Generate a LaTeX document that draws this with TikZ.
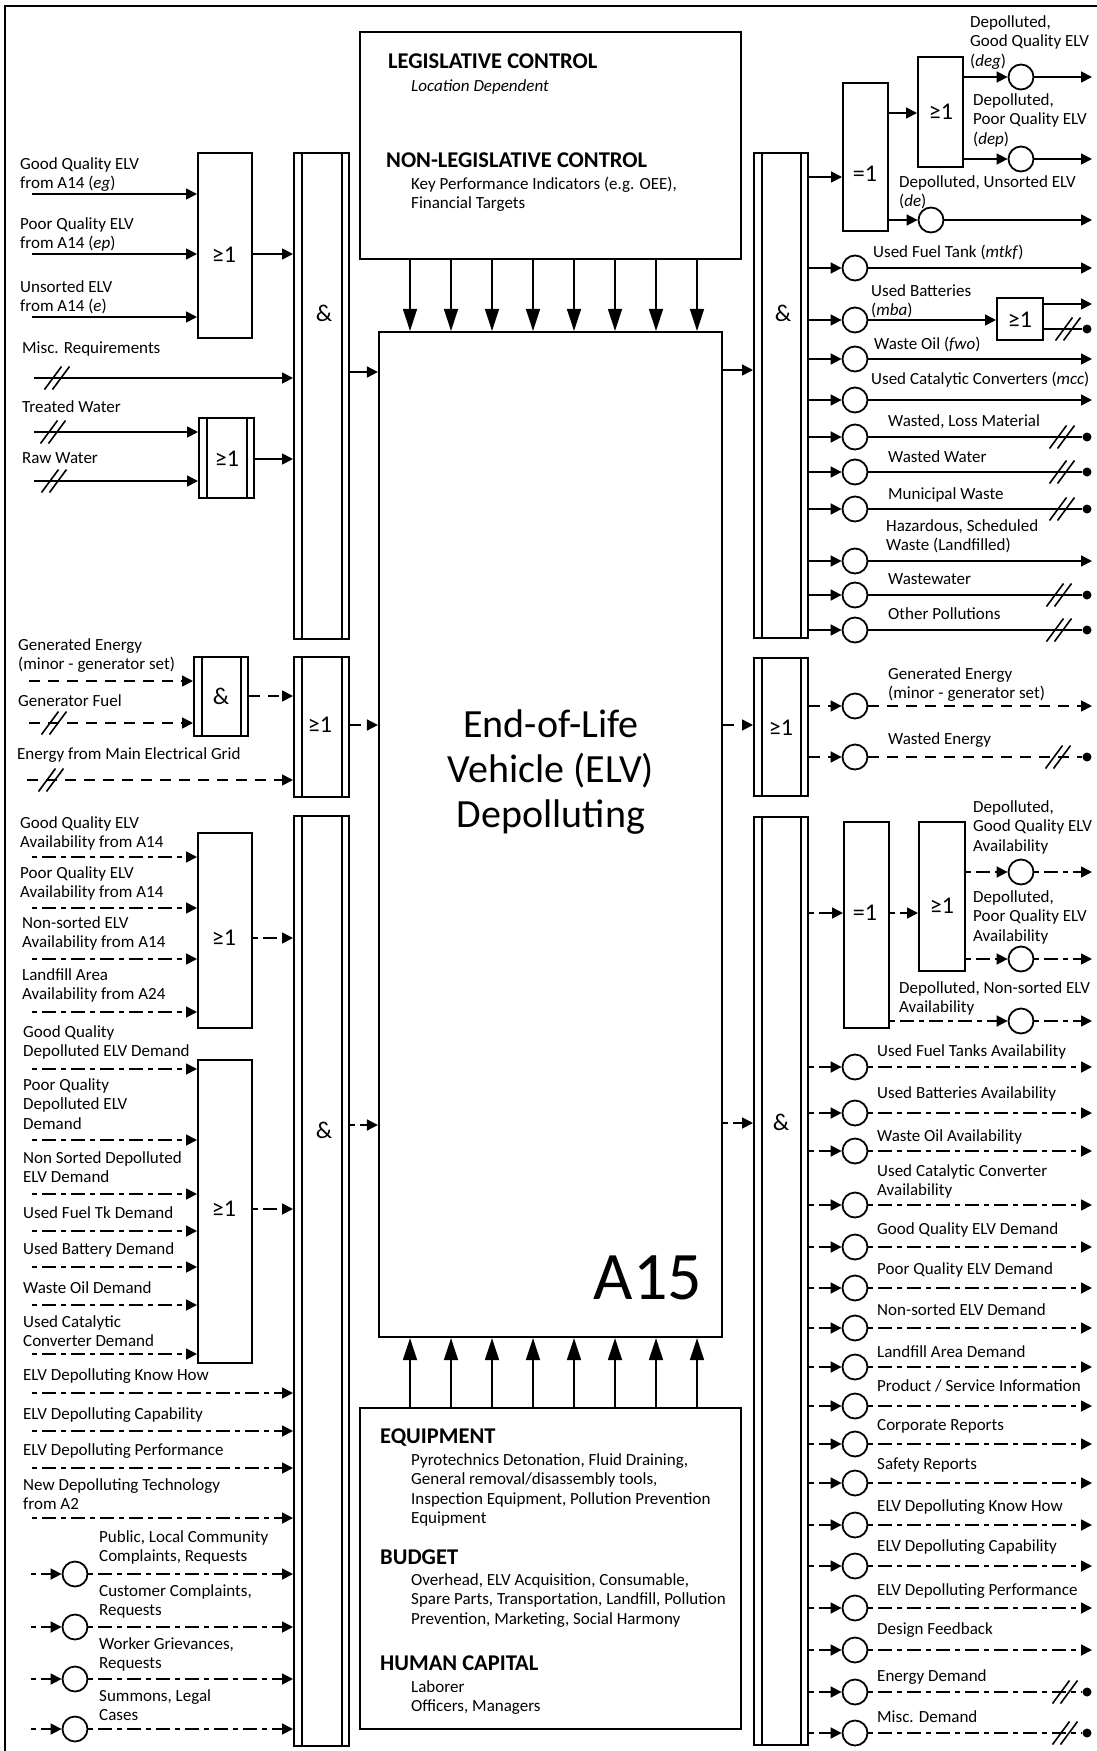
\documentclass[tikz,border=0pt]{standalone}
\usepackage{fontspec}
\setmainfont{Carlito}
\usetikzlibrary{arrows.meta,calc}
\newcommand\lab{\fontsize{17}{19.5}\selectfont}
\newcommand\gfont{\fontsize{24}{26}\selectfont}
\newcommand\hfont{\fontsize{22.5}{24}\selectfont\bfseries}
\newcommand\ml[1]{{\let\\\cr\vtop{\halign{##\hfil\cr#1\crcr}}}}
\tikzset{
 lbl/.style={anchor=base west, inner sep=0pt, font=\lab},
 gb/.style={draw, line width=2pt, inner sep=0pt, fill=white},
 sym/.style={inner sep=0pt, font=\gfont},
 circ/.style={draw, circle, line width=1.8pt, minimum size=25pt, inner sep=0pt, fill=white},
 ar/.style={line width=1.7pt, -{Triangle[length=11pt,width=11pt]}},
 pl/.style={line width=1.7pt},
 big/.style={line width=1.8pt, -{Triangle[length=22pt,width=14pt]}},
 en/.style={dash pattern=on 11pt off 8pt},
 inf/.style={dash pattern=on 5pt off 5pt on 14pt off 5pt},
 dotend/.style={circle, fill, inner sep=0pt, minimum size=9pt},
}
\newcommand\gbox[6][]{\node[gb,#1,minimum width={(#5-#3)*1pt},minimum height={(#6-#4)*1pt}] (#2) at ({(#3+#5)/2},{(#4+#6)/2}) {};}
\newcommand\dbox[5]{\gbox{#1}{#2}{#3}{#4}{#5}\draw[line width=1.6pt] ([xshift=9pt]#1.north west) -- ([xshift=9pt]#1.south west) ([xshift=-8pt]#1.north east) -- ([xshift=-8pt]#1.south east);}
\newcommand\dsl[2]{\draw[line width=1.6pt,solid] ({#1-12.5},{#2+11.5}) -- ({#1+4.5},{#2-11.5}) ({#1-4.5},{#2+11.5}) -- ({#1+12.5},{#2-11.5});}
\newcommand\hc[4][ar]{\draw[#1] (#2 |- 0,#4) -- (#3 |- 0,#4);}
\newcommand\hs[4][ar]{\coordinate (s) at (#2,#4); \draw[#1] (s) -- (#3 |- s);}
\begin{document}
\begin{tikzpicture}[x=1pt,y=-1pt]
\useasboundingbox (0,0) rectangle (1097,1751);
\fill[white] (0,0) rectangle (1097,1751);
\draw[line width=2pt] (5,1752) -- (5,6) -- (1098,6);

% ---------- central boxes ----------
\gbox[line width=2.2pt]{ctrl}{360}{32}{741}{259}
\gbox[line width=2.2pt]{main}{379}{332}{722}{1337}
\gbox[line width=2.2pt]{mech}{360}{1408}{741}{1729}
\foreach \i in {0,...,7} {
  \coordinate (cx\i) at ({410+41*\i},0);
  \draw[big] (ctrl.south -| cx\i) -- (main.north -| cx\i);
  \draw[big] (mech.north -| cx\i) -- (main.south -| cx\i);
}
\node[lbl,font=\hfont] (t1) at (388,68.5) {LEGISLATIVE CONTROL};
\node[lbl,font=\lab\itshape] (t2) at (411,91) {Location Dependent};
\node[lbl,font=\hfont] (t3) at (386,167.5) {NON-LEGISLATIVE CONTROL};
\node[lbl] (t4) at (411,189) {\ml{Key Performance Indicators (e.g. OEE),\\Financial Targets}};
\node[font=\fontsize{40}{45}\selectfont, align=center] (mt) at (551,772) {End-of-Life\\Vehicle (ELV)\\Depolluting};
\node[font=\fontsize{68}{70}\selectfont, inner sep=0pt] (a15) at (648,1278) {A15};
\node[lbl,font=\hfont] (m1) at (380,1443.5) {EQUIPMENT};
\node[lbl] (m2) at (411,1465) {\ml{Pyrotechnics Detonation, Fluid Draining,\\General removal/disassembly tools,\\Inspection Equipment, Pollution Prevention\\Equipment}};
\node[lbl,font=\hfont] (m3) at (380,1564.5) {BUDGET};
\node[lbl] (m4) at (411,1585) {\ml{Overhead, ELV Acquisition, Consumable,\\Spare Parts, Transportation, Landfill, Pollution\\Prevention, Marketing, Social Harmony}};
\node[lbl,font=\hfont] (m5) at (380,1670.5) {HUMAN CAPITAL};
\node[lbl] (m6) at (411,1692) {\ml{Laborer\\Officers, Managers}};

% ---------- left upper ----------
\gbox{gA}{198}{153}{252}{338} \node[sym] (sA) at (224,255) {≥1};
\dbox{LB1}{294}{153}{349}{639} \node[sym] (sL1) at (324,313) {\&};
\dbox{gW}{199}{418}{254}{498} \node[sym] (sW) at (227,459) {≥1};
\hs{32}{gA.west}{194} \hs{32}{gA.west}{254} \hs{32}{gA.west}{317}
\node[lbl] at (20,169) {\ml{Good Quality ELV\\from A14 (\textit{eg})}};
\node[lbl] at (20,229) {\ml{Poor Quality ELV\\from A14 (\textit{ep})}};
\node[lbl] at (20,292) {\ml{Unsorted ELV\\from A14 (\textit{e})}};
\hc{gA.east}{LB1.west}{254}
\hs{34}{LB1.west}{378} \dsl{57}{378}
\node[lbl] at (22,353) {Misc. Requirements};
\hs{34}{gW.west}{432} \dsl{53}{432}
\hs{34}{gW.west}{481} \dsl{54}{481}
\node[lbl] at (22,412) {Treated Water};
\node[lbl] at (22,463) {Raw Water};
\hc{gW.east}{LB1.west}{459}
\hc{LB1.east}{main.west}{372}

% ---------- left middle ----------
\dbox{gE}{194}{657}{248}{736} \node[sym] (sE) at (221,696) {\&};
\dbox{LB2}{294}{657}{349}{797} \node[sym] (sL2) at (320,725) {≥1};
\hs[ar,en]{29}{gE.west}{681}
\hs[ar,en]{29}{gE.west}{723} \dsl{54}{723}
\hs[ar,en]{27}{LB2.west}{780} \dsl{51}{780}
\node[lbl] at (18,650) {\ml{Generated Energy\\(minor - generator set)}};
\node[lbl] at (18,706) {Generator Fuel};
\node[lbl] at (17,759) {Energy from Main Electrical Grid};
\hc[ar,en]{gE.east}{LB2.west}{696}
\hc[ar,en]{LB2.east}{main.west}{725}

% ---------- left lower ----------
\gbox{gAv}{198}{833}{252}{1028} \node[sym] (sAv) at (224,938) {≥1};
\gbox{gDm}{198}{1060}{252}{1363} \node[sym] (sDm) at (224,1209) {≥1};
\dbox{LB3}{294}{816}{349}{1746} \node[sym] (sL3) at (324,1130) {\&};
\foreach \y in {857,908,959,1012} {\hs[ar,inf]{32}{gAv.west}{\y}}
\node[lbl] at (20,828) {\ml{Good Quality ELV\\Availability from A14}};
\node[lbl] at (20,878) {\ml{Poor Quality ELV\\Availability from A14}};
\node[lbl] at (22,928) {\ml{Non-sorted ELV\\Availability from A14}};
\node[lbl] at (22,980) {\ml{Landfill Area\\Availability from A24}};
\foreach \y in {1069,1140,1194,1231,1267,1305,1354} {\hs[ar,inf]{32}{gDm.west}{\y}}
\node[lbl] at (23,1037) {\ml{Good Quality\\Depolluted ELV Demand}};
\node[lbl] at (23,1090) {\ml{Poor Quality\\Depolluted ELV\\Demand}};
\node[lbl] at (23,1163) {\ml{Non Sorted Depolluted\\ELV Demand}};
\node[lbl] at (23,1218) {Used Fuel Tk Demand};
\node[lbl] at (23,1254) {Used Battery Demand};
\node[lbl] at (23,1293) {Waste Oil Demand};
\node[lbl] at (23,1327) {\ml{Used Catalytic\\Converter Demand}};
\hc[ar,inf]{gAv.east}{LB3.west}{938}
\hc[ar,inf]{gDm.east}{LB3.west}{1209}
\foreach \y in {1393,1431,1468,1518} {\hs[ar,inf]{32}{LB3.west}{\y}}
\node[lbl] at (23,1380) {ELV Depolluting Know How};
\node[lbl] at (23,1419) {ELV Depolluting Capability};
\node[lbl] at (23,1455) {ELV Depolluting Performance};
\node[lbl] at (23,1490) {\ml{New Depolluting Technology\\from A2}};
\foreach \n/\y in {1/1574,2/1627,3/1679,4/1729} {
  \node[circ] (lc\n) at (75,\y) {};
  \coordinate (ls\n) at (31,\y);
  \draw[ar,inf] (ls\n) -- (lc\n.west);
  \draw[ar,inf] (lc\n.east) -- (LB3.west |- lc\n);
}
\node[lbl] at (99,1542) {\ml{Public, Local Community\\Complaints, Requests}};
\node[lbl] at (99,1596) {\ml{Customer Complaints,\\Requests}};
\node[lbl] at (99,1649) {\ml{Worker Grievances,\\Requests}};
\node[lbl] at (99,1701) {\ml{Summons, Legal\\Cases}};
\hc[ar,inf]{LB3.east}{main.west}{1125}

% ---------- right upper ----------
\dbox{RB1}{754}{153}{808}{638} \node[sym] (sR1) at (783,313) {\&};
\hc{main.east}{RB1.west}{370}
\gbox{gX}{843}{83}{888}{231} \node[sym] (sX) at (865,174) {=1};
\gbox{gO}{918}{57}{963}{167} \node[sym] (sO) at (941,112) {≥1};
\hc{RB1.east}{gX.west}{177}
\hc{gX.east}{gO.west}{113}
\node[circ] (cdeg) at (1021,77) {};
\node[circ] (cdep) at (1021,159) {};
\node[circ] (cde) at (931,220) {};
\draw[ar] (gO.east |- cdeg) -- (cdeg.west);
\draw[ar] (gO.east |- cdep) -- (cdep.west);
\draw[ar] (gX.east |- cde) -- (cde.west);
\foreach \c in {cdeg,cdep,cde} {\draw[ar] (\c.east) -- (\c.east -| 1092,0);}
\node[lbl] at (970,27) {\ml{Depolluted,\\Good Quality ELV\\(\textit{deg})}};
\node[lbl] at (973,105) {\ml{Depolluted,\\Poor Quality ELV\\(\textit{dep})}};
\node[lbl] at (899,187) {\ml{Depolluted, Unsorted ELV\\(\textit{de})}};
\foreach \n/\y in {f/268,b/320,o/359,c/400,l/437,w/472,m/509,h/561,ww/595,op/630} {
  \node[circ] (c\n) at (855,\y) {};
  \draw[ar] (RB1.east |- c\n) -- (c\n.west);
}
\foreach \n in {f,o,c,h} {\draw[ar] (c\n.east) -- (c\n.east -| 1092,0);}
\foreach \n/\y/\s in {l/437/1062,w/472/1062,m/509/1062,ww/595/1059,op/630/1059} {
  \node[dotend] (d\n) at (1087,\y) {};
  \draw[pl] (c\n.east) -- (d\n);
  \dsl{\s}{\y}
}
\gbox{gB}{997}{298}{1043}{340} \node[sym] (sB) at (1020,320) {≥1};
\draw[ar] (cb.east) -- (gB.west |- cb);
\coordinate (eb1) at (1092,304);
\draw[ar] (gB.east |- eb1) -- (eb1);
\node[dotend] (db2) at (1087,329) {};
\draw[pl] (gB.east |- db2) -- (db2); \dsl{1068}{329}
\node[lbl] at (873,257) {Used Fuel Tank (\textit{mtkf})};
\node[lbl] at (871,296) {\ml{Used Batteries\\(\textit{mba})}};
\node[lbl] at (874,349) {Waste Oil (\textit{fwo})};
\node[lbl] at (871,384) {Used Catalytic Converters (\textit{mcc})};
\node[lbl] at (888,426) {Wasted, Loss Material};
\node[lbl] at (888,462) {Wasted Water};
\node[lbl] at (888,499) {Municipal Waste};
\node[lbl] at (886,531) {\ml{Hazardous, Scheduled\\Waste (Landfilled)}};
\node[lbl] at (888,584) {Wastewater};
\node[lbl] at (888,619) {Other Pollutions};

% ---------- right middle ----------
\dbox{RB2}{754}{658}{808}{796} \node[sym] (sR2) at (781,728) {≥1};
\hc[ar,en]{main.east}{RB2.west}{725}
\node[circ] (cge) at (855,706) {};
\node[circ] (cwe) at (855,757) {};
\draw[ar,en] (RB2.east |- cge) -- (cge.west);
\draw[ar,en] (RB2.east |- cwe) -- (cwe.west);
\draw[ar,en] (cge.east) -- (cge.east -| 1092,0);
\node[dotend] (dwe) at (1087,757) {};
\draw[pl,en] (cwe.east) -- (dwe); \dsl{1058}{757}
\node[lbl] at (888,679) {\ml{Generated Energy\\(minor - generator set)}};
\node[lbl] at (888,744) {Wasted Energy};

% ---------- right lower ----------
\dbox{RB3}{754}{817}{808}{1745} \node[sym] (sR3) at (781,1122) {\&};
\hc[ar,inf]{main.east}{RB3.west}{1123}
\gbox{gX2}{844}{822}{889}{1028} \node[sym] (sX2) at (865,913) {=1};
\gbox{gO2}{919}{822}{965}{971} \node[sym] (sO2) at (942,906) {≥1};
\hc[ar,inf]{RB3.east}{gX2.west}{913}
\hc[ar,inf]{gX2.east}{gO2.west}{913}
\node[circ] (ca1) at (1021,872) {};
\node[circ] (ca2) at (1021,959) {};
\node[circ] (ca3) at (1021,1021) {};
\draw[ar,inf] (gO2.east |- ca1) -- (ca1.west);
\draw[ar,inf] (gO2.east |- ca2) -- (ca2.west);
\draw[ar,inf] (gX2.east |- ca3) -- (ca3.west);
\foreach \c in {ca1,ca2,ca3} {\draw[ar,inf] (\c.east) -- (\c.east -| 1092,0);}
\node[lbl] at (973,812) {\ml{Depolluted,\\Good Quality ELV\\Availability}};
\node[lbl] at (973,902) {\ml{Depolluted,\\Poor Quality ELV\\Availability}};
\node[lbl] at (899,993) {\ml{Depolluted, Non-sorted ELV\\Availability}};
\foreach \n/\y/\ly/\t in {1/1067/1051/{Used Fuel Tanks Availability}, 2/1113/1093/{Used Batteries Availability}, 3/1151/1136/{Waste Oil Availability}, 4/1205/1171/{Used Catalytic Converter\\Availability}, 5/1247/1229/{Good Quality ELV Demand}, 6/1288/1269/{Poor Quality ELV Demand}, 7/1328/1310/{Non-sorted ELV Demand}, 8/1367/1352/{Landfill Area Demand}, 9/1406/1386/{Product / Service Information}, 10/1444/1425/{Corporate Reports}, 11/1483/1464/{Safety Reports}, 12/1525/1506/{ELV Depolluting Know How}, 13/1566/1546/{ELV Depolluting Capability}, 14/1608/1590/{ELV Depolluting Performance}, 15/1650/1629/{Design Feedback}, 16/1692/1676/{Energy Demand}, 17/1733/1717/{Misc. Demand}} {
  \node[circ] (rc\n) at (855,\y) {};
  \draw[ar,inf] (RB3.east |- rc\n) -- (rc\n.west);
  \node[lbl] (rl\n) at (877,{\ly+5}) {\ml{\t}};
}
\foreach \n in {1,...,15} {\draw[ar,inf] (rc\n.east) -- (rc\n.east -| 1092,0);}
\foreach \n/\y/\s in {16/1692/1065,17/1733/1065} {
  \node[dotend] (rd\n) at (1087,\y) {};
  \draw[pl,inf] (rc\n.east) -- (rd\n);
  \dsl{\s}{\y}
}
\end{tikzpicture}
\end{document}
